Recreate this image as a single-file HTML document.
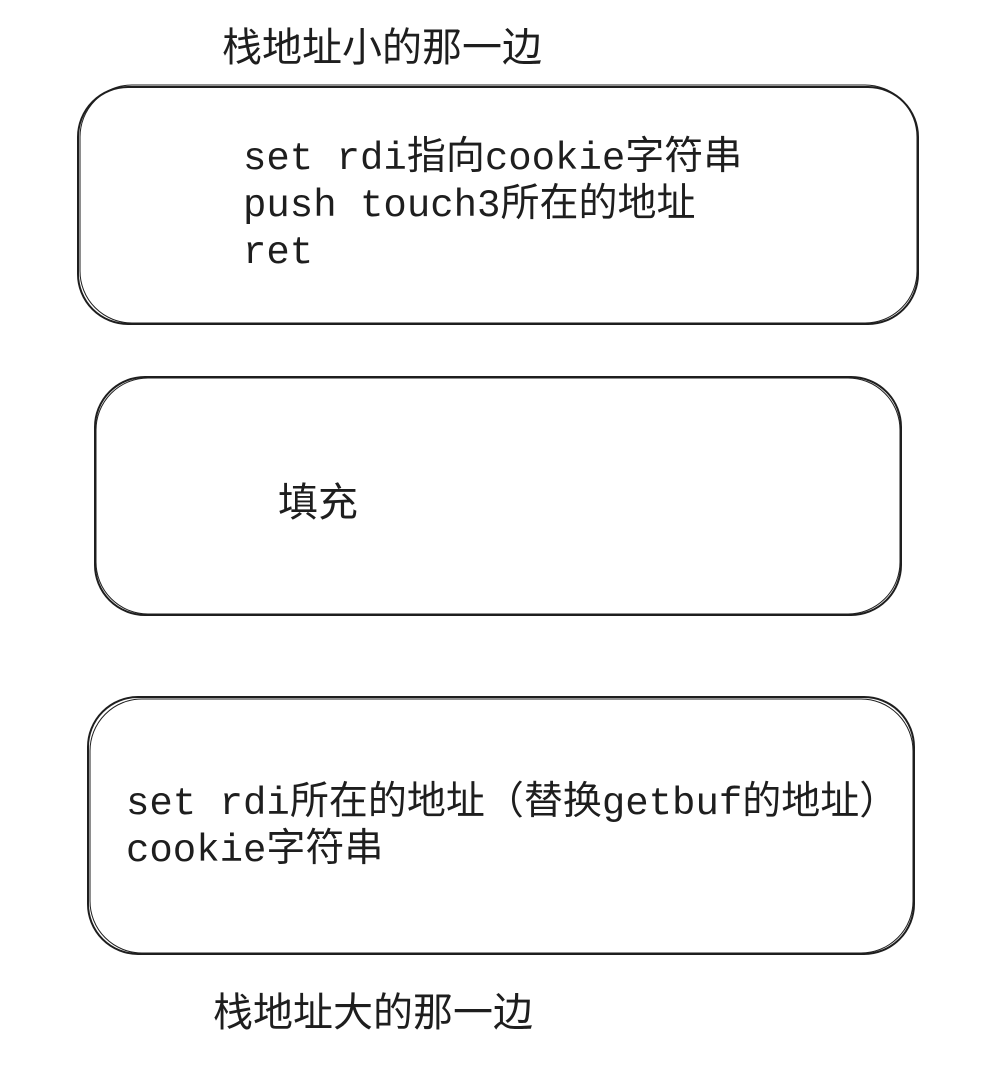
<!DOCTYPE html>
<html><head><meta charset="utf-8"><style>
html,body{margin:0;padding:0;background:#fff;}
body{width:984px;height:1070px;position:relative;overflow:hidden;}
.t{position:absolute;font-family:"Liberation Sans","Noto Sans CJK SC",sans-serif;font-size:40px;color:#1e1e1e;white-space:pre;line-height:44px;}
.m{position:absolute;font-family:"Liberation Mono","Noto Sans CJK SC",monospace;font-size:39px;color:#1e1e1e;white-space:pre;line-height:47px;}
svg{position:absolute;left:0;top:0;}
</style></head><body>
<svg width="984" height="1070" fill="none" stroke="#1e1e1e" stroke-width="2">
<rect x="78" y="87" width="840" height="237" rx="50"/>
<rect x="80" y="85" width="837" height="238" rx="52" stroke-width="1"/>
<rect x="95" y="377" width="806" height="238" rx="50"/>
<rect x="96" y="378" width="804" height="236" rx="52" stroke-width="1"/>
<rect x="88" y="697" width="826" height="257" rx="50"/>
<rect x="90" y="699" width="823" height="254" rx="52" stroke-width="1"/>
</svg>
<div class="t" style="left:222px;top:26px;">栈地址小的那一边</div>
<div class="m" style="left:243px;top:136px;">set rdi指向cookie字符串
push touch3所在的地址
ret</div>
<div class="t" style="left:278px;top:481px;">填充</div>
<div class="m" style="left:126px;top:781px;">set rdi所在的地址（替换getbuf的地址）
cookie字符串</div>
<div class="t" style="left:213px;top:991px;">栈地址大的那一边</div>
</body></html>
